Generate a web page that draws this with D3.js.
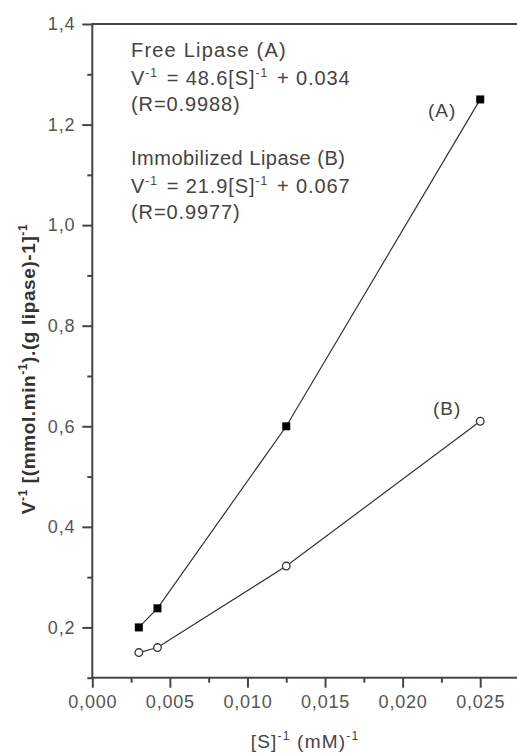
<!DOCTYPE html>
<html><head><meta charset="utf-8">
<script src="https://cdn.jsdelivr.net/npm/d3@7"></script>
<style>body{margin:0;background:#fff} text{font-family:"Liberation Sans",Arial,sans-serif}</style>
</head><body><svg id="c" width="517" height="753"></svg>
<script>
// ---- data ----
const sInvA = [0.003, 0.0042, 0.0125, 0.025];
const vInvA = [0.2, 0.238, 0.6, 1.25];
const sInvB = [0.003, 0.0042, 0.0125, 0.025];
const vInvB = [0.15, 0.16, 0.322, 0.61];
const xMajor = [0, 0.005, 0.010, 0.015, 0.020, 0.025];
const xMajorLabels = ["0,000", "0,005", "0,010", "0,015", "0,020", "0,025"];
const xMinor = [0.0025, 0.0075, 0.0125, 0.0175, 0.0225];
const yMajor = [0.2, 0.4, 0.6, 0.8, 1.0, 1.2, 1.4];
const yMajorLabels = ["0,2", "0,4", "0,6", "0,8", "1,0", "1,2", "1,4"];
const yMinor = [0.1, 0.3, 0.5, 0.7, 0.9, 1.1, 1.3];
const xDomain = [0, 0.0275];
const yDomain = [0.1, 1.4];

// ---- chart ----
const svg = d3.select("#c");
const x = d3.scaleLinear(xDomain, [92.3, 519]);
const y = d3.scaleLinear(yDomain, [677.7, 24]);
const axisColor = "#444";
const textColor = "#444";

function styleAxis(g){
  g.selectAll("path").remove();
  g.selectAll("line").attr("stroke", axisColor).attr("stroke-width", 2);
  g.selectAll("text").attr("fill", "#555").attr("font-size", 18).style("letter-spacing","0.8px");
}

// minor ticks
svg.append("g").attr("transform", `translate(0,${y(yDomain[0])})`)
  .call(d3.axisBottom(x).tickValues(xMinor).tickSize(5).tickFormat("")).call(styleAxis);
svg.append("g").attr("transform", `translate(${x(0)},0)`)
  .call(d3.axisLeft(y).tickValues(yMinor).tickSize(5).tickFormat("")).call(styleAxis);
// major ticks
svg.append("g").attr("transform", `translate(0,${y(yDomain[0])})`)
  .call(d3.axisBottom(x).tickValues(xMajor).tickSize(10).tickPadding(8)
    .tickFormat((d,i)=>xMajorLabels[i])).call(styleAxis);
svg.append("g").attr("transform", `translate(${x(0)},0)`)
  .call(d3.axisLeft(y).tickValues(yMajor).tickSize(10).tickPadding(7)
    .tickFormat((d,i)=>yMajorLabels[i])).call(styleAxis);

// frame
svg.append("rect")
  .attr("x", x(xDomain[0])).attr("y", y(yDomain[1]))
  .attr("width", x(xDomain[1]) - x(xDomain[0]))
  .attr("height", y(yDomain[0]) - y(yDomain[1]))
  .attr("fill", "none").attr("stroke", axisColor).attr("stroke-width", 2);

// lines
const line = d3.line().x(d=>x(d[0])).y(d=>y(d[1]));
const ptsA = sInvA.map((s,i)=>[s, vInvA[i]]);
const ptsB = sInvB.map((s,i)=>[s, vInvB[i]]);
svg.append("path").attr("d", line(ptsA)).attr("fill","none").attr("stroke","#333").attr("stroke-width",1.2);
svg.append("path").attr("d", line(ptsB)).attr("fill","none").attr("stroke","#333").attr("stroke-width",1.2);

// markers
svg.selectAll(".sq").data(ptsA).enter().append("rect")
  .attr("x", d=>x(d[0])-4).attr("y", d=>y(d[1])-4)
  .attr("width", 8).attr("height", 8).attr("fill", "#000");
svg.selectAll(".ci").data(ptsB).enter().append("circle")
  .attr("cx", d=>x(d[0])).attr("cy", d=>y(d[1])).attr("r", 3.8)
  .attr("fill", "#fff").attr("stroke", "#333").attr("stroke-width", 1.3);

// series labels
svg.append("text").attr("x", 428).attr("y", 117).attr("fill", textColor)
  .attr("font-size", 19).style("letter-spacing","1px").text("(A)");
svg.append("text").attr("x", 433).attr("y", 415).attr("fill", textColor)
  .attr("font-size", 19).style("letter-spacing","1px").text("(B)");

// annotation block
function supLine(parent, xPos, yPos, parts, ls){
  const t = parent.append("text").attr("x", xPos).attr("y", yPos)
    .attr("fill", textColor).attr("font-size", 20).style("letter-spacing", ls + "px");
  parts.forEach(p=>{
    if (p.sup) {
      t.append("tspan").attr("font-size", 12).attr("dy", -8).text(p.t);
      t.append("tspan").attr("dy", 8).text("\u200A");
    } else {
      t.append("tspan").text(p.t);
    }
  });
  return t;
}
const ann = svg.append("g");
supLine(ann, 131, 57, [{t:"Free Lipase (A)"}], 1.2);
supLine(ann, 131, 85, [{t:"V"},{t:"-1",sup:true},{t:" = 48.6[S]"},{t:"-1",sup:true},{t:" + 0.034"}], 0.9);
supLine(ann, 131, 111, [{t:"(R=0.9988)"}], 0.9);
supLine(ann, 131, 165, [{t:"Immobilized Lipase (B)"}], 0.5);
supLine(ann, 131, 193, [{t:"V"},{t:"-1",sup:true},{t:" = 21.9[S]"},{t:"-1",sup:true},{t:" + 0.067"}], 0.9);
supLine(ann, 131, 219, [{t:"(R=0.9977)"}], 0.9);

// x axis title
const xt = svg.append("text").attr("x", 305).attr("y", 748).attr("text-anchor","middle")
  .attr("fill", textColor).attr("font-size", 19).style("letter-spacing","1.2px");
xt.append("tspan").text("[S]");
xt.append("tspan").attr("font-size", 12).attr("dy", -8).text("-1");
xt.append("tspan").attr("dy", 8).text(" (mM)");
xt.append("tspan").attr("font-size", 12).attr("dy", -8).text("-1");

// y axis title
const yt = svg.append("text").attr("transform", "translate(35,369) rotate(-90)")
  .attr("text-anchor", "middle").attr("fill", "#333").attr("font-size", 19).attr("font-weight", "bold")
  .style("letter-spacing","0.6px");
yt.append("tspan").text("V");
yt.append("tspan").attr("font-size", 12).attr("dy", -8).text("-1");
yt.append("tspan").attr("dy", 8).text(" [(mmol.min");
yt.append("tspan").attr("font-size", 12).attr("dy", -8).text("-1");
yt.append("tspan").attr("dy", 8).text(").(g lipase)-1]");
yt.append("tspan").attr("font-size", 12).attr("dy", -8).text("-1");
</script></body></html>
